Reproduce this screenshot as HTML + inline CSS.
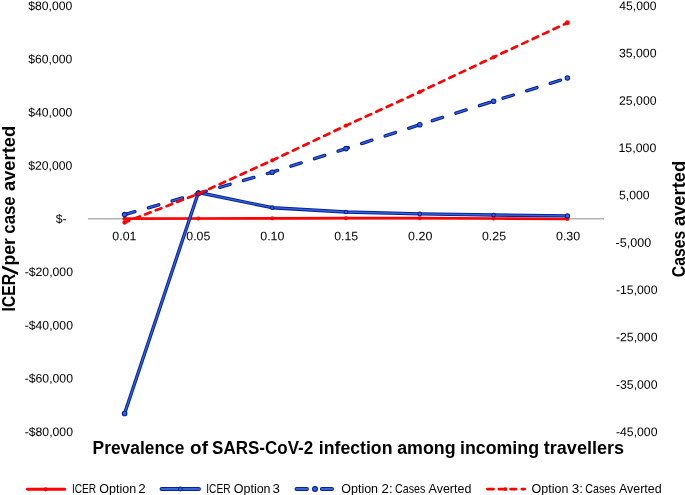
<!DOCTYPE html>
<html><head><meta charset="utf-8"><title>chart</title>
<style>
html,body{margin:0;padding:0;background:#fff;overflow:hidden;}
svg{display:block;}
text{font-family:"Liberation Sans",sans-serif;fill:#000;}
.t{font-size:12.2px;}
.b{font-weight:bold;fill:#000;}
</style></head><body>
<svg width="685" height="495" viewBox="0 0 685 495">
<rect width="685" height="495" fill="#fff"/>
<line x1="87.9" y1="218.7" x2="604.1" y2="218.7" stroke="#b2b2b2" stroke-width="1.6"/>
<text class="t" x="28.23" y="9.90" transform="rotate(0.03 28.23 9.90)" textLength="44.11" lengthAdjust="spacingAndGlyphs">$80,000</text>
<text class="t" x="28.23" y="63.20" transform="rotate(0.03 28.23 63.20)" textLength="44.11" lengthAdjust="spacingAndGlyphs">$60,000</text>
<text class="t" x="28.23" y="116.40" transform="rotate(0.03 28.23 116.40)" textLength="44.11" lengthAdjust="spacingAndGlyphs">$40,000</text>
<text class="t" x="28.23" y="169.70" transform="rotate(0.03 28.23 169.70)" textLength="44.11" lengthAdjust="spacingAndGlyphs">$20,000</text>
<text class="t" x="55.63" y="223.00" transform="rotate(0.03 55.63 223.00)" textLength="10.85" lengthAdjust="spacingAndGlyphs">$-</text>
<text class="t" x="24.68" y="276.10" transform="rotate(0.03 24.68 276.10)" textLength="48.32" lengthAdjust="spacingAndGlyphs">-$20,000</text>
<text class="t" x="24.68" y="329.40" transform="rotate(0.03 24.68 329.40)" textLength="48.32" lengthAdjust="spacingAndGlyphs">-$40,000</text>
<text class="t" x="24.68" y="382.60" transform="rotate(0.03 24.68 382.60)" textLength="48.32" lengthAdjust="spacingAndGlyphs">-$60,000</text>
<text class="t" x="24.68" y="435.90" transform="rotate(0.03 24.68 435.90)" textLength="48.32" lengthAdjust="spacingAndGlyphs">-$80,000</text>
<text class="t" x="619.37" y="10.00" transform="rotate(0.03 619.37 10.00)" textLength="37.01" lengthAdjust="spacingAndGlyphs">45,000</text>
<text class="t" x="618.94" y="57.30" transform="rotate(0.03 618.94 57.30)" textLength="37.58" lengthAdjust="spacingAndGlyphs">35,000</text>
<text class="t" x="619.04" y="104.70" transform="rotate(0.03 619.04 104.70)" textLength="37.55" lengthAdjust="spacingAndGlyphs">25,000</text>
<text class="t" x="618.5" y="152.00" transform="rotate(0.03 618.5 152.00)" textLength="37.78" lengthAdjust="spacingAndGlyphs">15,000</text>
<text class="t" x="619.03" y="199.30" transform="rotate(0.03 619.03 199.30)" textLength="30.51" lengthAdjust="spacingAndGlyphs">5,000</text>
<text class="t" x="615.58" y="246.70" transform="rotate(0.03 615.58 246.70)" textLength="35.63" lengthAdjust="spacingAndGlyphs">-5,000</text>
<text class="t" x="615.99" y="294.00" transform="rotate(0.03 615.99 294.00)" textLength="41.5" lengthAdjust="spacingAndGlyphs">-15,000</text>
<text class="t" x="615.99" y="341.30" transform="rotate(0.03 615.99 341.30)" textLength="41.5" lengthAdjust="spacingAndGlyphs">-25,000</text>
<text class="t" x="615.99" y="388.70" transform="rotate(0.03 615.99 388.70)" textLength="41.5" lengthAdjust="spacingAndGlyphs">-35,000</text>
<text class="t" x="615.99" y="436.00" transform="rotate(0.03 615.99 436.00)" textLength="41.5" lengthAdjust="spacingAndGlyphs">-45,000</text>
<text class="t" x="112.37" y="240.20" transform="rotate(0.03 112.37 240.20)" textLength="24.11" lengthAdjust="spacingAndGlyphs">0.01</text>
<text class="t" x="186.3" y="240.20" transform="rotate(0.03 186.3 240.20)" textLength="23.98" lengthAdjust="spacingAndGlyphs">0.05</text>
<text class="t" x="260.23" y="240.20" transform="rotate(0.03 260.23 240.20)" textLength="24.3" lengthAdjust="spacingAndGlyphs">0.10</text>
<text class="t" x="334.16" y="240.20" transform="rotate(0.03 334.16 240.20)" textLength="23.98" lengthAdjust="spacingAndGlyphs">0.15</text>
<text class="t" x="408.09" y="240.20" transform="rotate(0.03 408.09 240.20)" textLength="24.3" lengthAdjust="spacingAndGlyphs">0.20</text>
<text class="t" x="482.02" y="240.20" transform="rotate(0.03 482.02 240.20)" textLength="23.98" lengthAdjust="spacingAndGlyphs">0.25</text>
<text class="t" x="555.95" y="240.20" transform="rotate(0.03 555.95 240.20)" textLength="24.3" lengthAdjust="spacingAndGlyphs">0.30</text>
<polyline points="124.6,218.7 198.4,218.5 272.2,218.3 346.0,218.2 419.8,218.2 493.6,218.5 567.4,219.0" fill="none" stroke="#ff0000" stroke-width="2.7" stroke-linecap="round" stroke-linejoin="round"/>
<circle cx="124.6" cy="218.7" r="1.8" fill="#ff0000" stroke="#ff0000" stroke-width="0.5"/><circle cx="198.4" cy="218.5" r="1.8" fill="#ff0000" stroke="#ff0000" stroke-width="0.5"/><circle cx="272.2" cy="218.3" r="1.8" fill="#ff0000" stroke="#ff0000" stroke-width="0.5"/><circle cx="346.0" cy="218.2" r="1.8" fill="#ff0000" stroke="#ff0000" stroke-width="0.5"/><circle cx="419.8" cy="218.2" r="1.8" fill="#ff0000" stroke="#ff0000" stroke-width="0.5"/><circle cx="493.6" cy="218.5" r="1.8" fill="#ff0000" stroke="#ff0000" stroke-width="0.5"/><circle cx="567.4" cy="219.0" r="1.8" fill="#ff0000" stroke="#ff0000" stroke-width="0.5"/>
<polyline points="124.6,413.5 198.4,192.5 272.2,207.7 346.0,212.0 419.8,213.9 493.6,215.0 567.4,215.9" fill="none" stroke="#08219f" stroke-width="3.4" stroke-linecap="round" stroke-linejoin="round"/>
<polyline points="124.6,413.5 198.4,192.5 272.2,207.7 346.0,212.0 419.8,213.9 493.6,215.0 567.4,215.9" fill="none" stroke="#3565d0" stroke-width="1.3" stroke-linecap="round" stroke-linejoin="round"/>
<circle cx="124.6" cy="413.5" r="2.3" fill="#3565d0" stroke="#08219f" stroke-width="1.1"/><circle cx="198.4" cy="192.5" r="1.8" fill="#3565d0" stroke="#08219f" stroke-width="1.1"/><circle cx="272.2" cy="207.7" r="1.8" fill="#3565d0" stroke="#08219f" stroke-width="1.1"/><circle cx="346.0" cy="212.0" r="1.8" fill="#3565d0" stroke="#08219f" stroke-width="1.1"/><circle cx="419.8" cy="213.9" r="1.8" fill="#3565d0" stroke="#08219f" stroke-width="1.1"/><circle cx="493.6" cy="215.0" r="1.8" fill="#3565d0" stroke="#08219f" stroke-width="1.1"/><circle cx="567.4" cy="215.9" r="2.2" fill="#3565d0" stroke="#08219f" stroke-width="1.1"/>
<polyline points="124.6,214.6 198.4,193.4 272.2,172.2 346.0,148.6 419.8,124.7 493.6,101.2 567.4,78.0" fill="none" stroke="#08219f" stroke-width="3.4" stroke-linecap="round" stroke-linejoin="round" stroke-dasharray="10.75 14.0"/>
<polyline points="124.6,214.6 198.4,193.4 272.2,172.2 346.0,148.6 419.8,124.7 493.6,101.2 567.4,78.0" fill="none" stroke="#3565d0" stroke-width="1.3" stroke-linecap="round" stroke-linejoin="round" stroke-dasharray="10.75 14.0"/>
<circle cx="124.6" cy="214.6" r="2.25" fill="#3565d0" stroke="#08219f" stroke-width="1.1"/><circle cx="198.4" cy="193.4" r="2.25" fill="#3565d0" stroke="#08219f" stroke-width="1.1"/><circle cx="272.2" cy="172.2" r="2.25" fill="#3565d0" stroke="#08219f" stroke-width="1.1"/><circle cx="346.0" cy="148.6" r="2.25" fill="#3565d0" stroke="#08219f" stroke-width="1.1"/><circle cx="419.8" cy="124.7" r="2.25" fill="#3565d0" stroke="#08219f" stroke-width="1.1"/><circle cx="493.6" cy="101.2" r="2.25" fill="#3565d0" stroke="#08219f" stroke-width="1.1"/><circle cx="567.4" cy="78.0" r="2.25" fill="#3565d0" stroke="#08219f" stroke-width="1.1"/>
<polyline points="124.6,222.4 198.4,193.8 272.2,160.4 346.0,125.6 419.8,91.9 493.6,57.2 567.4,22.8" fill="none" stroke="#ff0000" stroke-width="2.7" stroke-linecap="round" stroke-linejoin="round" stroke-dasharray="5.9 5.6" stroke-dashoffset="1"/>
<circle cx="124.6" cy="222.4" r="2.0" fill="#ff0000" stroke="#ff0000" stroke-width="0.5"/><circle cx="198.4" cy="193.8" r="1.8" fill="#ff0000" stroke="#ff0000" stroke-width="0.5"/><circle cx="272.2" cy="160.4" r="1.8" fill="#ff0000" stroke="#ff0000" stroke-width="0.5"/><circle cx="346.0" cy="125.6" r="1.8" fill="#ff0000" stroke="#ff0000" stroke-width="0.5"/><circle cx="419.8" cy="91.9" r="1.8" fill="#ff0000" stroke="#ff0000" stroke-width="0.5"/><circle cx="493.6" cy="57.2" r="1.8" fill="#ff0000" stroke="#ff0000" stroke-width="0.5"/><circle cx="567.4" cy="22.8" r="2.2" fill="#ff0000" stroke="#ff0000" stroke-width="0.5"/>
<text class="b" y="453.7" transform="rotate(0.012 358 453.7)" font-size="17.6"><tspan x="92.6" textLength="91.76" lengthAdjust="spacingAndGlyphs">Prevalence</tspan> <tspan x="190.14" textLength="17.88" lengthAdjust="spacingAndGlyphs">of</tspan> <tspan x="212.12" textLength="101.08" lengthAdjust="spacingAndGlyphs">SARS-CoV-2</tspan> <tspan x="318.8" textLength="73.66" lengthAdjust="spacingAndGlyphs">infection</tspan> <tspan x="397.23" textLength="58.32" lengthAdjust="spacingAndGlyphs">among</tspan> <tspan x="460.0" textLength="79.0" lengthAdjust="spacingAndGlyphs">incoming</tspan> <tspan x="543.8" textLength="80.29" lengthAdjust="spacingAndGlyphs">travellers</tspan></text>
<text class="b" transform="translate(15,0) rotate(-90)" y="0" font-size="17.6"><tspan x="-311.50" textLength="37.61" lengthAdjust="spacingAndGlyphs">ICER</tspan><tspan x="-274.9" dy="3.2" font-size="22" font-weight="normal" textLength="9.4" lengthAdjust="spacingAndGlyphs">/</tspan><tspan x="-265.50" dy="-3.2" textLength="27.45" lengthAdjust="spacingAndGlyphs">per</tspan> <tspan x="-233.64" textLength="37.32" lengthAdjust="spacingAndGlyphs">case</tspan> <tspan x="-190.99" textLength="65.05" lengthAdjust="spacingAndGlyphs">averted</tspan></text>
<text class="b" transform="translate(685,0) rotate(-90)" y="0" font-size="17.6"><tspan x="-277.16" textLength="46.41" lengthAdjust="spacingAndGlyphs">Cases</tspan> <tspan x="-225.99" textLength="65.06" lengthAdjust="spacingAndGlyphs">averted</tspan></text>
<text y="493.0" transform="rotate(0.012 71.9 493)" font-size="12.2"><tspan x="71.9" textLength="24.24" lengthAdjust="spacingAndGlyphs">ICER</tspan> <tspan x="99.34" textLength="36.85" lengthAdjust="spacingAndGlyphs">Option</tspan> <tspan x="138.28" textLength="7.45" lengthAdjust="spacingAndGlyphs">2</tspan></text>
<text y="493.0" transform="rotate(0.012 206.3 493)" font-size="12.2"><tspan x="206.3" textLength="24.24" lengthAdjust="spacingAndGlyphs">ICER</tspan> <tspan x="233.74" textLength="36.85" lengthAdjust="spacingAndGlyphs">Option</tspan> <tspan x="272.58" textLength="7.42" lengthAdjust="spacingAndGlyphs">3</tspan></text>
<text y="493.0" transform="rotate(0.012 341.24 493)" font-size="12.2"><tspan x="341.24" textLength="36.85" lengthAdjust="spacingAndGlyphs">Option</tspan> <tspan x="381.58" textLength="11.09" lengthAdjust="spacingAndGlyphs">2:</tspan> <tspan x="395.01" textLength="30.26" lengthAdjust="spacingAndGlyphs">Cases</tspan> <tspan x="428.6" textLength="42.77" lengthAdjust="spacingAndGlyphs">Averted</tspan></text>
<text y="493.0" transform="rotate(0.012 531.54 493)" font-size="12.2"><tspan x="531.54" textLength="36.85" lengthAdjust="spacingAndGlyphs">Option</tspan> <tspan x="571.78" textLength="11.22" lengthAdjust="spacingAndGlyphs">3:</tspan> <tspan x="585.31" textLength="30.26" lengthAdjust="spacingAndGlyphs">Cases</tspan> <tspan x="618.9" textLength="42.77" lengthAdjust="spacingAndGlyphs">Averted</tspan></text>
<line x1="27.4" y1="489.3" x2="64.6" y2="489.3" stroke="#ff0000" stroke-width="2.9" stroke-linecap="round"/><circle cx="45.6" cy="489.3" r="2.1" fill="#ff0000"/>
<line x1="161.5" y1="489.0" x2="199" y2="489.0" stroke="#08219f" stroke-width="3.9" stroke-linecap="round"/><line x1="161.5" y1="489.0" x2="199" y2="489.0" stroke="#3565d0" stroke-width="2.0" stroke-linecap="round"/><circle cx="180.4" cy="489.0" r="1.9" fill="#3565d0" stroke="#08219f" stroke-width="1.1"/>
<line x1="296.5" y1="489.0" x2="307.0" y2="489.0" stroke="#08219f" stroke-width="3.9" stroke-linecap="round"/><line x1="296.5" y1="489.0" x2="307.0" y2="489.0" stroke="#3565d0" stroke-width="2.0" stroke-linecap="round"/><line x1="321.8" y1="489.0" x2="332.0" y2="489.0" stroke="#08219f" stroke-width="3.9" stroke-linecap="round"/><line x1="321.8" y1="489.0" x2="332.0" y2="489.0" stroke="#3565d0" stroke-width="2.0" stroke-linecap="round"/><circle cx="315" cy="489.0" r="2.4" fill="#3565d0" stroke="#08219f" stroke-width="1.2"/>
<line x1="487.35" y1="489.1" x2="493.55" y2="489.1" stroke="#ff0000" stroke-width="2.7" stroke-linecap="round"/><line x1="498.85" y1="489.1" x2="505.05" y2="489.1" stroke="#ff0000" stroke-width="2.7" stroke-linecap="round"/><line x1="510.55" y1="489.1" x2="516.05" y2="489.1" stroke="#ff0000" stroke-width="2.7" stroke-linecap="round"/><line x1="521.85" y1="489.1" x2="524.75" y2="489.1" stroke="#ff0000" stroke-width="2.7" stroke-linecap="round"/><circle cx="505.5" cy="489.1" r="1.9" fill="#ff0000"/>
</svg></body></html>
